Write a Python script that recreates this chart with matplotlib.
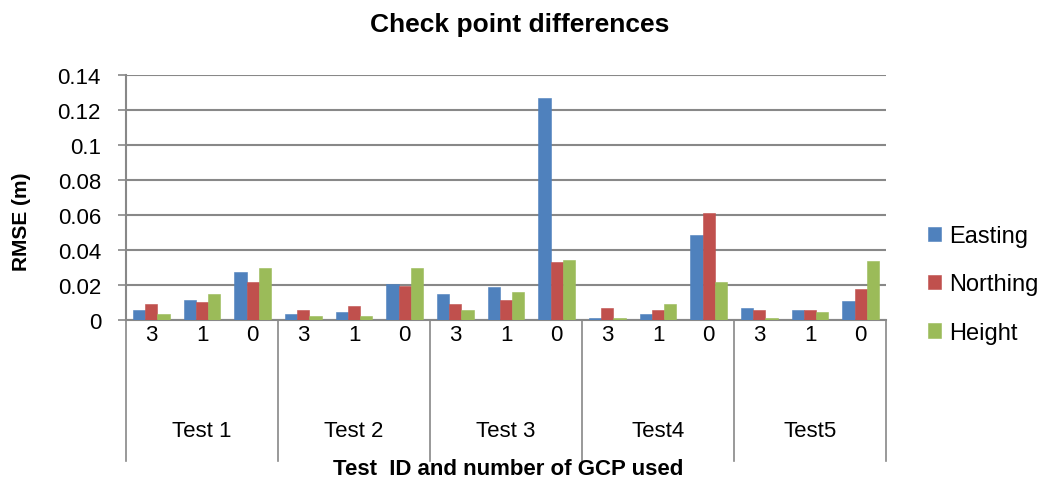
import matplotlib
matplotlib.use("Agg")
import matplotlib.pyplot as plt
import numpy as np

plt.rcParams["font.family"] = ["Liberation Sans", "DejaVu Sans"]

tests = ["Test 1", "Test 2", "Test 3", "Test4", "Test5"]
gcp_counts = ["3", "1", "0"]
series_names = ["Easting", "Northing", "Height"]
easting = [0.006, 0.0116, 0.0277, 0.0034, 0.0048, 0.0208, 0.015, 0.0187, 0.127, 0.0013, 0.0036, 0.0484, 0.0071, 0.006, 0.0106]
northing = [0.0094, 0.0105, 0.0219, 0.0059, 0.0082, 0.0196, 0.0093, 0.0116, 0.0333, 0.007, 0.0059, 0.061, 0.006, 0.006, 0.0175]
height = [0.0034, 0.015, 0.0297, 0.0025, 0.0025, 0.0297, 0.0059, 0.0162, 0.0345, 0.0013, 0.0093, 0.022, 0.0013, 0.0048, 0.0337]
colors = ["#4F81BD", "#C0504D", "#9BBB59"]
grid_color = "#888888"

fig = plt.figure(figsize=(10.46, 4.85), dpi=100)
ax = fig.add_axes([126 / 1046, (485 - 321) / 485, 760 / 1046, 245 / 485])

n = len(easting)
x = np.arange(n)
width = 0.24
for i, (name, vals, col) in enumerate(zip(series_names, [easting, northing, height], colors)):
    ax.bar(x + (i - 1) * width, vals, width, color=col, label=name,
           edgecolor=col, linewidth=0.4, zorder=3)

ax.set_xlim(-0.5, n - 0.5)
ax.set_ylim(0, 0.14)
ax.set_yticks(np.arange(0, 0.141, 0.02))
ax.set_yticklabels(["0"] + [f"{v:g}" for v in np.arange(0.02, 0.141, 0.02)], fontsize=16)
ax.yaxis.grid(True, color=grid_color, linewidth=1.5, zorder=0)
ax.tick_params(axis="y", length=6, width=1.2, color=grid_color, pad=12)
ax.set_xticks([])
for s in ["top", "right"]:
    ax.spines[s].set_visible(False)
for s in ["left", "bottom"]:
    ax.spines[s].set_color(grid_color)
    ax.spines[s].set_linewidth(1.5)

# multi-level category axis: GCP count row, test row, group separators
trans = ax.get_xaxis_transform()
for k in range(n):
    ax.text(k, -0.06, gcp_counts[k % 3], transform=trans, ha="center", va="center",
            fontsize=16)
for g, name in enumerate(tests):
    ax.text(g * 3 + 1, -0.45, name, transform=trans, ha="center", va="center",
            fontsize=16)
for g in range(len(tests) + 1):
    ax.plot([g * 3 - 0.5] * 2, [0, -0.576], transform=trans, color=grid_color,
            linewidth=1.2, clip_on=False)

fig.text(22 / 1046, 1 - 222 / 485, "RMSE (m)", rotation=90, ha="center", va="center",
         fontsize=15, fontweight="bold")
fig.text(508 / 1046, 1 - 470 / 485, "Test  ID and number of GCP used", ha="center",
         va="center", fontsize=16, fontweight="bold")
fig.text(520 / 1046, 1 - 25 / 485, "Check point differences", ha="center",
         va="center", fontsize=19, fontweight="bold")

ax.legend(loc="center left", bbox_to_anchor=(1.04, 0.145), frameon=False, fontsize=17,
          handlelength=0.55, handleheight=0.55, handletextpad=0.35, labelspacing=1.12,
          borderpad=0)

fig.savefig("out.png", dpi=100)
